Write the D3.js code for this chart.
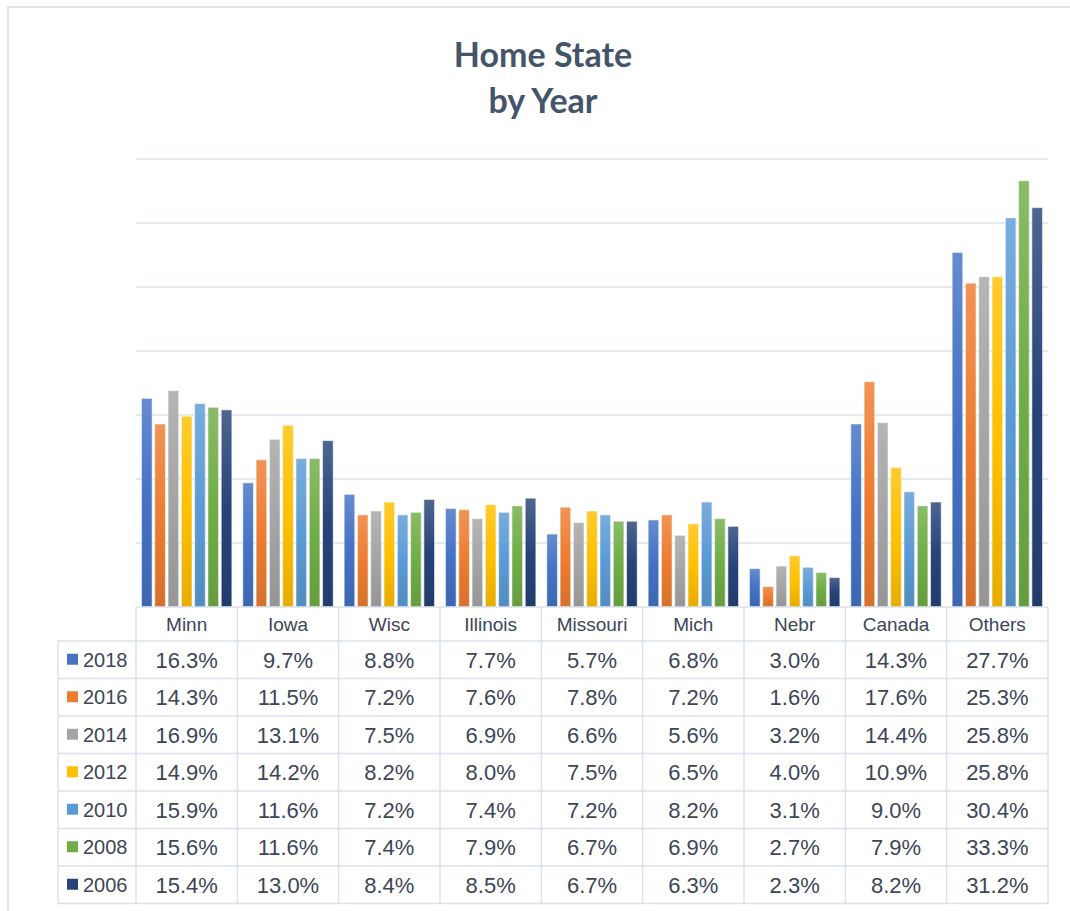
<!DOCTYPE html>
<html lang="en">
<head>
<meta charset="UTF-8">
<title>Home State by Year</title>
<script src="https://cdn.jsdelivr.net/npm/d3@7"></script>
<style>
  body { margin: 0; background: #fff; }
</style>
</head>
<body>
<svg id="chart" width="1070" height="911"></svg>
<script>
// Data
const states = ["Minn", "Iowa", "Wisc", "Illinois", "Missouri", "Mich", "Nebr", "Canada", "Others"];
const years = ["2018", "2016", "2014", "2012", "2010", "2008", "2006"];
const yearColors = ["#4472C4", "#ED7D31", "#A5A5A5", "#FFC000", "#5B9BD5", "#70AD47", "#264478"];
const v2018 = [16.3, 9.7, 8.8, 7.7, 5.7, 6.8, 3.0, 14.3, 27.7];
const v2016 = [14.3, 11.5, 7.2, 7.6, 7.8, 7.2, 1.6, 17.6, 25.3];
const v2014 = [16.9, 13.1, 7.5, 6.9, 6.6, 5.6, 3.2, 14.4, 25.8];
const v2012 = [14.9, 14.2, 8.2, 8.0, 7.5, 6.5, 4.0, 10.9, 25.8];
const v2010 = [15.9, 11.6, 7.2, 7.4, 7.2, 8.2, 3.1, 9.0, 30.4];
const v2008 = [15.6, 11.6, 7.4, 7.9, 6.7, 6.9, 2.7, 7.9, 33.3];
const v2006 = [15.4, 13.0, 8.4, 8.5, 6.7, 6.3, 2.3, 8.2, 31.2];
const yTicks = [0, 5, 10, 15, 20, 25, 30, 35];

const series = [v2018, v2016, v2014, v2012, v2010, v2008, v2006];

// Layout
const plotLeft = 136, plotRight = 1048, plotTop = 159, base = 607;
const headerH = 34, rowH = 37.5, legendLeft = 58;
const textColor = "#3d4657";
const lineColor = "#dbe0ea";

const svg = d3.select("#chart");

// outer frame
svg.append("path")
  .attr("d", "M8,920 L8,7 L1075,7")
  .attr("fill", "none")
  .attr("stroke", "#e0e4ee")
  .attr("stroke-width", 2);

// title
const title = svg.append("text")
  .attr("text-anchor", "middle")
  .attr("font-family", "Lato, 'Open Sans', sans-serif")
  .attr("font-weight", "bold")
  .attr("font-size", 34)
  .attr("fill", "#44546a");
title.append("tspan").attr("x", 543).attr("y", 67).text("Home State");
title.append("tspan").attr("x", 543).attr("y", 113).text("by Year");

// scales
const x0 = d3.scaleBand().domain(states).range([plotLeft, plotRight]);
const x1 = d3.scaleBand().domain(years)
  .range([x0.bandwidth() * 0.054, x0.bandwidth() * 0.946])
  .paddingInner(0.2);
const y = d3.scaleLinear().domain([0, 35]).range([base, plotTop]);

// gradients
const defs = svg.append("defs");
years.forEach((yr, i) => {
  const c = d3.color(yearColors[i]);
  const g = defs.append("linearGradient")
    .attr("id", "grad" + yr)
    .attr("x1", 0).attr("y1", 0).attr("x2", 0).attr("y2", 1);
  g.append("stop").attr("offset", "0%").attr("stop-color", d3.interpolateRgb(c, "#fff")(0.18));
  g.append("stop").attr("offset", "50%").attr("stop-color", c.formatHex());
  g.append("stop").attr("offset", "100%").attr("stop-color", d3.interpolateRgb(c, "#000")(0.1));
});

// gridlines
svg.append("g")
  .selectAll("line")
  .data(yTicks.filter(t => t > 0))
  .enter().append("line")
  .attr("x1", plotLeft).attr("x2", plotRight)
  .attr("y1", d => y(d)).attr("y2", d => y(d))
  .attr("stroke", lineColor)
  .attr("stroke-width", 1.5);

// bars
const groups = svg.append("g")
  .selectAll("g")
  .data(states)
  .enter().append("g")
  .attr("transform", d => "translate(" + x0(d) + ",0)");

groups.selectAll("rect")
  .data((s, si) => years.map((yr, yi) => ({ yr: yr, v: series[yi][si] })))
  .enter().append("rect")
  .attr("x", d => x1(d.yr))
  .attr("width", x1.bandwidth())
  .attr("y", d => y(d.v))
  .attr("height", d => base - y(d.v))
  .attr("fill", d => "url(#grad" + d.yr + ")")
  .attr("stroke", "rgba(255,255,255,0.55)")
  .attr("stroke-width", 1);

// data table
const table = svg.append("g");
const tableBottom = base + headerH + rowH * years.length;

// horizontal lines
const hLines = [base, base + headerH];
years.forEach((yr, i) => hLines.push(base + headerH + rowH * (i + 1)));
table.selectAll("line.h")
  .data(hLines)
  .enter().append("line")
  .attr("class", "h")
  .attr("x1", (d, i) => i === 0 ? plotLeft : legendLeft)
  .attr("x2", plotRight)
  .attr("y1", d => d).attr("y2", d => d)
  .attr("stroke", lineColor)
  .attr("stroke-width", 1.5);

// vertical lines
const vLines = states.map(s => x0(s)).concat([plotRight]);
table.selectAll("line.v")
  .data(vLines)
  .enter().append("line")
  .attr("class", "v")
  .attr("x1", d => d).attr("x2", d => d)
  .attr("y1", base).attr("y2", tableBottom)
  .attr("stroke", lineColor)
  .attr("stroke-width", 1.5);
table.append("line")
  .attr("x1", legendLeft).attr("x2", legendLeft)
  .attr("y1", base + headerH).attr("y2", tableBottom)
  .attr("stroke", lineColor)
  .attr("stroke-width", 1.5);

// header labels
table.selectAll("text.head")
  .data(states)
  .enter().append("text")
  .attr("class", "head")
  .attr("x", d => x0(d) + x0.bandwidth() / 2)
  .attr("y", base + headerH / 2 + 7)
  .attr("text-anchor", "middle")
  .attr("font-family", "'Liberation Sans', Arial, sans-serif")
  .attr("font-size", 19)
  .attr("fill", textColor)
  .text(d => d);

// rows
years.forEach((yr, yi) => {
  const rowY = base + headerH + rowH * yi;
  table.append("rect")
    .attr("x", 67).attr("y", rowY + rowH / 2 - 6)
    .attr("width", 11).attr("height", 11)
    .attr("fill", yearColors[yi]);
  table.append("text")
    .attr("x", 83).attr("y", rowY + rowH / 2 + 7)
    .attr("font-family", "'Liberation Sans', Arial, sans-serif")
    .attr("font-size", 20)
    .attr("fill", textColor)
    .text(yr);
  table.selectAll("text.r" + yr)
    .data(series[yi])
    .enter().append("text")
    .attr("class", "r" + yr)
    .attr("x", (d, si) => x0(states[si]) + x0.bandwidth() / 2)
    .attr("y", rowY + rowH / 2 + 8)
    .attr("text-anchor", "middle")
    .attr("font-family", "'Liberation Sans', Arial, sans-serif")
    .attr("font-size", 22)
    .attr("fill", textColor)
    .text(d => d.toFixed(1) + "%");
});
</script>
</body>
</html>
